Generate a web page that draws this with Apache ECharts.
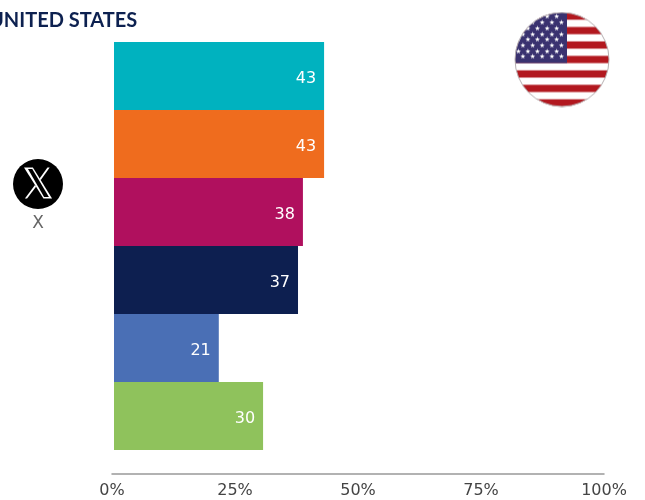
<!DOCTYPE html>
<html>
<head>
<meta charset="utf-8">
<style>html,body{margin:0;padding:0;background:#fff}#main{width:645px;height:500px}</style>
<script src="https://cdn.jsdelivr.net/npm/echarts@6/dist/echarts.min.js"></script>
</head>
<body>
<div id="main"></div>
<script>
// data
var categories = ['X'];
var seriesNames = ['Series 1', 'Series 2', 'Series 3', 'Series 4', 'Series 5', 'Series 6'];
var barValues = [42.7, 42.7, 38.4, 37.4, 21.3, 30.3];
var barColors = ['#00b2bf', '#ef6c1e', '#b0105e', '#0d1f50', '#4a6fb5', '#8fc25c'];
var tickLabels = ['0%', '25%', '50%', '75%', '100%'];
var titleText = 'UNITED STATES';

// round flag, drawn once on a canvas and placed as an image
function makeFlag() {
    var c = document.createElement('canvas');
    c.width = 96; c.height = 96;
    var ctx = c.getContext('2d');
    var r = 47, cx = 48, cy = 48, h = 94 / 13;
    ctx.save();
    ctx.beginPath();
    ctx.arc(cx, cy, r, 0, Math.PI * 2);
    ctx.clip();
    ctx.fillStyle = '#fff';
    ctx.fillRect(0, 0, 96, 96);
    ctx.fillStyle = '#b2181f';
    for (var i = 0; i < 13; i += 2) {
        ctx.fillRect(0, 1 + i * h, 96, h);
    }
    ctx.fillStyle = '#3a3270';
    ctx.fillRect(0, 0, 53, 1 + 7 * h);
    ctx.fillStyle = '#fff';
    ctx.font = '6.5px "DejaVu Sans"';
    ctx.textAlign = 'center';
    ctx.textBaseline = 'middle';
    for (var row = 0; row < 8; row++) {
        var odd = row % 2 === 1;
        for (var col = 0; col < 5; col++) {
            ctx.fillText('\u2605', (odd ? 9 : 4.3) + col * 9.6, 5.8 + row * 5.7);
        }
    }
    ctx.restore();
    ctx.beginPath();
    ctx.arc(cx, cy, r, 0, Math.PI * 2);
    ctx.strokeStyle = '#b5aeb0';
    ctx.lineWidth = 1;
    ctx.stroke();
    return c;
}

var series = barValues.map(function (v, i) {
    return {
        name: seriesNames[i],
        type: 'bar',
        xAxisIndex: 0,
        yAxisIndex: 0,
        barGap: 0,
        barCategoryGap: 0,
        itemStyle: { color: barColors[i] },
        label: {
            show: true,
            position: 'insideRight',
            distance: 8,
            offset: [0, 3],
            color: '#fff',
            fontFamily: 'DejaVu Sans',
            fontSize: 16,
            formatter: function (p) { return Math.round(p.value); }
        },
        data: [v]
    };
});

var myChart = echarts.init(document.getElementById('main'), null, { renderer: 'canvas' });
var option = {
    animation: false,
    backgroundColor: '#fff',
    title: {
        text: titleText,
        left: -16,
        top: 6,
        textStyle: {
            color: '#0d2150',
            fontFamily: 'Lato',
            fontSize: 20,
            fontWeight: 'bold'
        }
    },
    // bars start 2px right of the axis line, so they get their own grid
    grid: [
        { left: 114, width: 492, top: 42, height: 408 },
        { left: 112, width: 492, top: 42, height: 432 }
    ],
    xAxis: [{
        gridIndex: 0, type: 'value', min: 0, max: 100, show: false
    }, {
        gridIndex: 1,
        type: 'value',
        min: 0,
        max: 100,
        interval: 25,
        axisLine: { show: true, lineStyle: { color: '#999', width: 1.5 } },
        axisTick: { show: false },
        splitLine: { show: false },
        axisLabel: {
            margin: 9,
            color: '#444',
            fontFamily: 'DejaVu Sans',
            fontSize: 16,
            formatter: function (v) { return tickLabels[v / 25]; }
        }
    }],
    yAxis: [{
        gridIndex: 0, type: 'category', inverse: true, data: categories, show: false
    }, {
        gridIndex: 1, type: 'value', show: false
    }],
    series: series,
    graphic: [
        { type: 'circle', shape: { cx: 38, cy: 184, r: 25 }, style: { fill: '#000' } },
        {
            // X logo, in a 24 unit box
            type: 'group',
            x: 22.4,
            y: 163.8,
            scaleX: 1.3,
            scaleY: 1.6,
            children: [
                { type: 'polygon', shape: { points: [[1.254, 2.25], [8.08, 2.25], [22.827, 21.75], [16.17, 21.75]] }, style: { fill: '#fff' } },
                { type: 'polygon', shape: { points: [[4.3, 3.2], [7.6, 3.2], [20.4, 20.8], [16.7, 20.8]] }, style: { fill: '#000' } },
                { type: 'polygon', shape: { points: [[19.3, 2.25], [21.0, 2.25], [14.0, 10.3], [13.2, 9.2]] }, style: { fill: '#fff' } },
                { type: 'polygon', shape: { points: [[9.7, 13.3], [10.5, 14.4], [3.6, 21.75], [1.9, 21.75]] }, style: { fill: '#fff' } }
            ]
        },
        {
            type: 'text',
            x: 38,
            y: 224,
            style: {
                text: categories[0],
                fill: '#666',
                font: '17px "DejaVu Sans"',
                textAlign: 'center',
                textVerticalAlign: 'middle'
            }
        },
        {
            type: 'image',
            x: 514,
            y: 11.5,
            style: { image: makeFlag(), x: 0, y: 0, width: 96, height: 96 }
        }
    ]
};
myChart.setOption(option);
</script>
</body>
</html>
